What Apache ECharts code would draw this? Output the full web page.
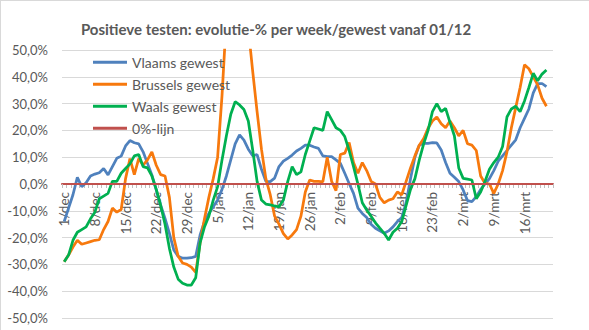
<!DOCTYPE html>
<html>
<head>
<meta charset="utf-8">
<script src="https://cdn.jsdelivr.net/npm/echarts@6/dist/echarts.min.js"></script>
<style>
html,body{margin:0;padding:0;background:#fff;}
#wrap{position:absolute;left:0;top:0;width:589px;height:330px;border-top:1px solid #D9D9D9;border-left:1px solid #D9D9D9;box-sizing:border-box;}
#main{position:absolute;left:0;top:0;width:589px;height:330px;}
</style>
</head>
<body>
<div id="wrap"></div>
<div id="main"></div>
<script>
// Month names and lengths used for the daily category axis (1/dec .. 22/mrt)
const months = [['dec', 31], ['jan', 31], ['feb', 28], ['mrt', 22]];
const categories = [];
months.forEach(([m, n]) => { for (let d = 1; d <= n; d++) categories.push(d + '/' + m); });

// date tick labels (one per week)
const tickLabels = ['1/dec', '8/dec', '15/dec', '22/dec', '29/dec', '5/jan', '12/jan', '19/jan',
  '26/jan', '2/feb', '9/feb', '16/feb', '23/feb', '2/mrt', '9/mrt', '16/mrt'];

const seriesNames = ['Vlaams gewest', 'Brussels gewest', 'Waals gewest', '0%-lijn'];

// Vlaams gewest (%)
const vlaams = [
  -14, -9, -4, 2.5, -1, 0.5, 3, 3.7, 4.2, 5.8,
  3.4, 6.5, 9.6, 10.4, 14.2, 16.2, 15.4, 15, 12, 7.7,
  3.4, -2.2, -7.8, -12.8, -18.4, -24.6, -27, -27.7, -27.7, -27.5,
  -27, -19, -14, -11, -8.5, -6, -2, 3, 9, 15,
  18.3, 16.4, 13, 10.5, 11, 5.5, 1, 0.9, 2.2, 6.5,
  8.5, 9.6, 10.8, 12.3, 13.3, 14.5, 14.5, 13.8, 13.3, 10.5,
  10.2, 10.2, 9, 7.7, 4, 0.2, -3.5, -9, -11, -12.5,
  -15, -16.5, -17.5, -18.4, -17.5, -16, -14, -12.5, -7, 2,
  10, 14.5, 15.2, 15.2, 15.4, 15.3, 12.7, 8, 4, 2.5,
  0.9, -2.2, -6.2, -6.6, -4.7, -2, 0, 2, 5, 8.5,
  10.5, 12.5, 14.5, 16.5, 21, 24.5, 28, 34, 37.5, 37.5,
  36.3
];

// Brussels gewest (%)
const brussel = [
  -29, -26.5, -23.5, -21, -22.5, -22, -21.5, -21, -20.8, -17,
  -14, -9, -10.5, -9.5, 2, 9.5, 3.5, 9.5, 7, 9,
  12, 7, 3.5, 3, -5, -20, -27, -29.5, -30, -31,
  -33, -22, -13, -5, 2, 10, 33, 62, 85, 92,
  85, 72, 58, 42, 27, 13, 2, -4, -12, -15,
  -18.5, -20.5, -19, -17, -12, -3, 1.5, 1, 1, 0.8,
  10, 1, -2.5, 11, 11.5, 15.5, 8, 4, 8, 5,
  1, 0, -5, -7, -6, -5.5, -3, -4, 1, 6,
  10.5, 14.5, 17, 20.8, 23.5, 25, 22.5, 21, 23.5, 21,
  18, 20, 15, 14.5, 12.5, 3, 0.2, 0, -3.5, 0,
  5, 12, 21, 28.5, 36, 44.5, 43, 40, 37, 32,
  29
];

// Waals gewest (%)
const waals = [
  -29, -26.5, -21, -18, -17, -16, -13, -10.5, -5.5, -4.5,
  -3.5, 1, 1, 4, 5.8, 7.5, 10.5, 11, 6.5, 6,
  3, -2, -8, -15, -24, -31, -35.5, -37, -37.7, -37.7,
  -35, -22, -16, -12, -6, -1, 9, 18, 26, 30.7,
  29.5, 27.8, 23.5, 12.7, 1, -6, -7.5, -7.8, -8.2, -8.5,
  -6, 1, 6.5, 3.5, 4.5, 11, 16, 21, 20.5, 20,
  27, 24, 21, 20, 17.7, 12.5, 6.5, 0, -7, -9.7,
  -12, -14.5, -16.5, -18.4, -20.9, -18, -16.5, -14, -8, -2,
  2, 9, 15, 20, 27, 30, 27, 28.2, 23, 18,
  6, 2.1, 1.8, 1.5, -5.5, -3, 1, 5.5, 8, 10,
  14, 25, 28, 29, 27, 31, 36, 41.3, 38.5, 41,
  42.5
];

// 0%-lijn
const nulLijn = categories.map(() => 0);

// y-axis ticks
const yMin = -50, yMax = 50, yStep = 10;

const colors = ['#4F81BD', '#F7790D', '#00B050', '#C0504D'];
const FONT = 'Lato, "Liberation Sans", sans-serif';

const chart = echarts.init(document.getElementById('main'), null, { renderer: 'svg' });

const lineSeries = (name, data, color, width, z) => ({
  name, type: 'line', data, symbol: 'none', showSymbol: false, smooth: false, z,
  xAxisIndex: 0, yAxisIndex: 0,
  lineStyle: { color, width }, itemStyle: { color }, clip: true
});

// plot area geometry
const gridTop = 50, gridBottom = 12, chartH = 330, gridLeft = 62, gridRight = 36;
const plotH = chartH - gridTop - gridBottom;
// helper grid whose bottom edge sits at the 0 value: it carries the date axis
const zeroFromBottom = gridBottom + plotH * (0 - yMin) / (yMax - yMin);

chart.setOption({
  animation: false,
  backgroundColor: 'transparent',
  title: {
    text: 'Positieve testen: evolutie-% per week/gewest vanaf 01/12',
    left: 271, top: 16, textAlign: 'center',
    textStyle: { fontFamily: FONT, fontSize: 15, fontWeight: 'bold', color: '#595959' }
  },
  legend: {
    orient: 'vertical', left: 88, top: 49,
    icon: 'rect', itemWidth: 34, itemHeight: 3, itemGap: 5.5,
    data: seriesNames,
    textStyle: { fontFamily: FONT, fontSize: 14, color: '#595959', lineHeight: 16.5 }
  },
  grid: [
    { left: gridLeft, right: gridRight, top: gridTop, bottom: gridBottom, containLabel: false, outerBoundsMode: 'none' },
    { left: gridLeft, right: gridRight, top: gridTop, bottom: zeroFromBottom, containLabel: false, outerBoundsMode: 'none' }
  ],
  xAxis: [
    {
      gridIndex: 0, type: 'category', data: categories, boundaryGap: true, show: false
    },
    {
      gridIndex: 1, type: 'category', data: categories, boundaryGap: true, position: 'bottom',
      axisLine: { show: true, onZero: false, lineStyle: { color: '#C0504D', width: 2 } },
      axisTick: { show: true, interval: 0, length: 4, lineStyle: { color: '#BFBFBF', width: 1 } },
      axisLabel: {
        show: true, rotate: 90, margin: 8, color: '#595959', fontFamily: FONT, fontSize: 13.5,
        interval: (idx, val) => tickLabels.indexOf(val) >= 0
      },
      splitLine: { show: false }
    }
  ],
  yAxis: [
    {
      gridIndex: 0, type: 'value', min: yMin, max: yMax, interval: yStep,
      axisLine: { show: false }, axisTick: { show: false },
      axisLabel: {
        margin: 14, color: '#595959', fontFamily: FONT, fontSize: 13,
        formatter: v => v.toFixed(1).replace('.', ',') + '%'
      },
      splitLine: { lineStyle: { color: '#D9D9D9', width: 1 } }
    },
    {
      gridIndex: 1, type: 'value', min: 0, max: yMax, show: false
    }
  ],
  series: [
    lineSeries(seriesNames[0], vlaams, colors[0], 2.75, 2),
    lineSeries(seriesNames[1], brussel, colors[1], 2.75, 3),
    lineSeries(seriesNames[2], waals, colors[2], 2.75, 4),
    lineSeries(seriesNames[3], nulLijn, colors[3], 2, 5)
  ]
});
</script>
</body>
</html>
